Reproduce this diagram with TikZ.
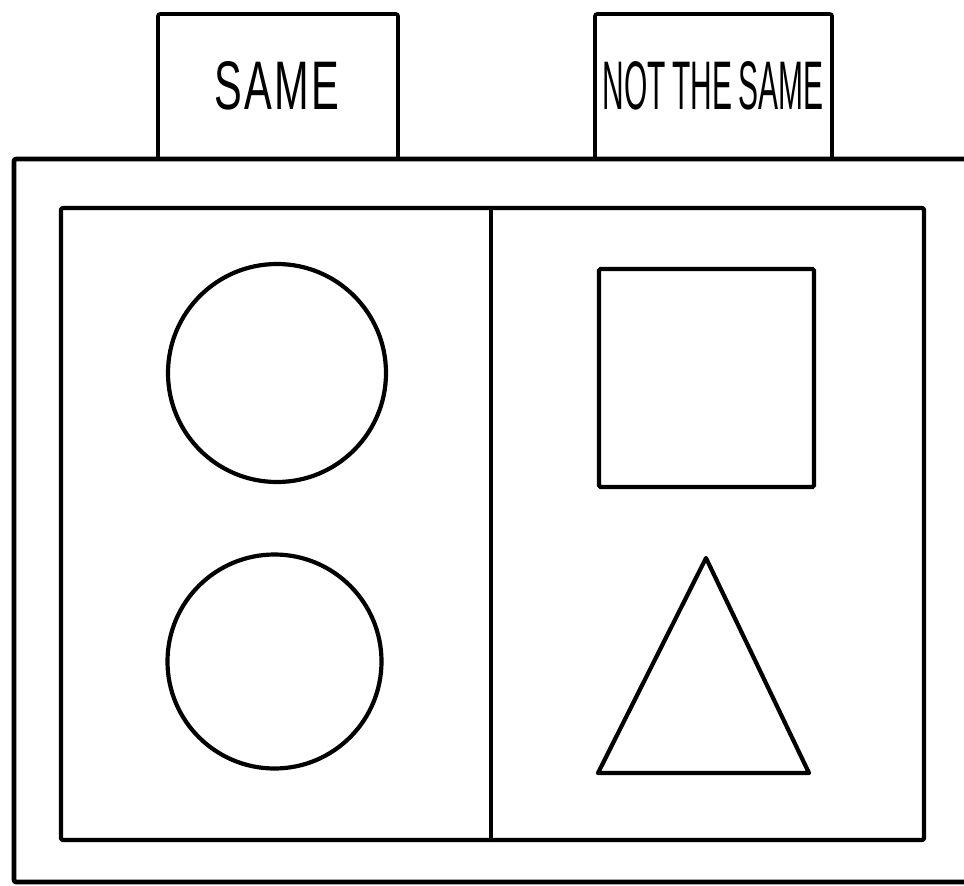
\documentclass[tikz,border=0pt]{standalone}
\usepackage{fontspec}
\setsansfont{Liberation Sans}
\begin{document}
\begin{tikzpicture}[x=1pt,y=-1pt,
  ln/.style={line width=4.2pt, line join=round, line cap=round},
  tabbox/.style={draw, line width=3.6pt, rounded corners=2pt, minimum height=145pt, inner sep=0pt},
  lbl/.style={inner sep=0pt, font=\sffamily},
  shp/.style={draw, line width=4.2pt, inner sep=0pt}]
\useasboundingbox (0,0) rectangle (964,886);
% tabs
\node[tabbox, minimum width=240pt] (tabA) at (278,86.5) {};
\node[tabbox, minimum width=237pt] (tabB) at (713.5,86.5) {};
\node[lbl] (txtA) at (277,86) {\resizebox{124pt}{48pt}{S\kern0.05em A\kern0.05em M\kern0.05em E}};
\node[lbl] (txtB) at (713,86) {\resizebox{220pt}{48pt}{NOT\hspace{0.2em}THE\hspace{0.2em}SAME}};
% outer board
\coordinate (otr) at (966,159);
\coordinate (otl) at (14,159);
\coordinate (obl) at (14,882);
\coordinate (obr) at (966,882);
\draw[ln, line width=4.6pt, rounded corners=2pt] (otr) -- (otl) -- (obl) -- (obr);
% inner board
\coordinate (itl) at (61,208);
\coordinate (ibr) at (924,840);
\draw[ln, rounded corners=2pt] (itl) rectangle (ibr);
\coordinate (dt) at (491,208);
\coordinate (db) at (491,840);
\draw[ln] (dt) -- (db);
% shapes
\node[shp, circle, minimum size=218pt] (c1) at (277,373) {};
\node[shp, circle, minimum size=214pt] (c2) at (274.5,661.5) {};
\node[shp, rectangle, rounded corners=1.5pt, minimum width=215pt, minimum height=218pt] (sq) at (706.5,378) {};
\coordinate (ta) at (706,558);
\coordinate (tl) at (598,773);
\coordinate (tr) at (809,773);
\draw[ln] (ta) -- (tr) -- (tl) -- cycle;
\end{tikzpicture}
\end{document}
